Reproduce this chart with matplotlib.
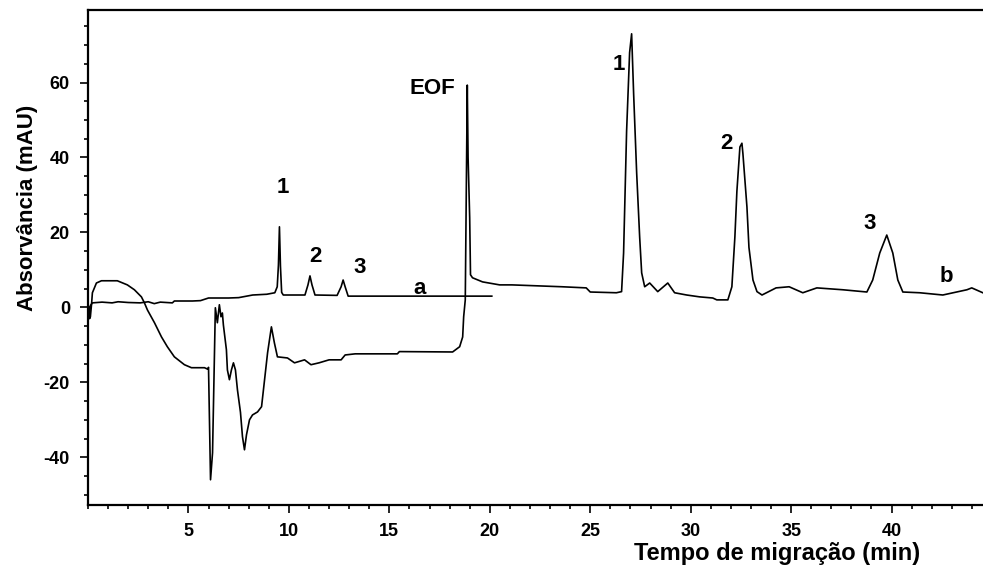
import matplotlib
matplotlib.use("Agg")
import matplotlib.pyplot as plt
from matplotlib.ticker import MultipleLocator

plt.rcParams["axes.unicode_minus"] = False

# eletroferograma (a): padrões, até 20 min
tempo_a = [0.05, 0.08, 0.12, 0.22, 0.7, 1.2, 1.5, 2.0, 2.6, 3.0, 3.3, 3.6, 4.2, 4.3,
           5.2, 5.6, 6.0, 6.5, 7.0, 7.5, 8.2, 8.9, 9.3, 9.42, 9.48, 9.53, 9.58, 9.64,
           9.72, 9.9, 10.8, 10.95, 11.05, 11.15, 11.3, 12.4, 12.6, 12.7, 12.8, 12.95,
           15.0, 18.8, 20.1]
abs_a = [0.0, -2.5, 0.5, 1.2, 1.4, 1.2, 1.5, 1.3, 1.2, 1.5, 1.0, 1.4, 1.2, 1.7,
         1.7, 1.8, 2.5, 2.5, 2.5, 2.6, 3.3, 3.5, 3.9, 5.5, 11.3, 21.5, 11.0, 4.0,
         3.3, 3.3, 3.3, 6.0, 8.4, 6.0, 3.3, 3.2, 5.5, 7.3, 5.5, 3.0,
         3.0, 3.0, 3.0]

# eletroferograma (b): amostra, corrida completa
tempo_b = [0.05, 0.08, 0.12, 0.18, 0.22, 0.42, 0.67, 1.46, 1.96, 2.31, 2.66, 2.81,
           2.96, 3.31, 3.66, 3.95, 4.3, 4.8, 5.15, 5.8, 5.96, 6.0, 6.1, 6.2, 6.34,
           6.44, 6.54, 6.62, 6.69, 6.74, 6.89, 6.94, 7.04, 7.14, 7.24, 7.34, 7.44,
           7.59, 7.69, 7.79, 7.89, 8.04, 8.19, 8.44, 8.64, 8.79, 8.94, 9.13, 9.28,
           9.43, 9.93, 10.28, 10.78, 11.1, 11.5, 12.0, 12.6, 12.8, 13.3, 15.4, 15.5,
           18.15, 18.5, 18.65, 18.7, 18.78, 18.88, 18.92, 19.0, 19.04, 19.14, 19.64,
           20.49, 21.1, 23.6, 24.8, 25.0, 26.3, 26.56, 26.66, 26.81, 26.96, 27.06,
           27.16, 27.31, 27.46, 27.56, 27.71, 27.96, 28.36, 28.86, 29.2, 29.8, 30.45,
           31.1, 31.3, 31.85, 32.05, 32.2, 32.3, 32.45, 32.55, 32.6, 32.8, 32.9,
           33.1, 33.3, 33.55, 34.25, 34.9, 35.58, 36.28, 37.57, 38.77, 39.06, 39.41,
           39.76, 40.06, 40.31, 40.56, 41.4, 42.55, 43.75, 43.99, 44.54]
abs_b = [0.0, -3.0, -2.5, 1.0, 3.9, 6.5, 7.1, 7.1, 6.0, 4.7, 2.8, 1.2,
         -0.7, -4.1, -7.9, -10.5, -13.2, -15.3, -16.1, -16.1, -16.5, -16.0, -46.0, -38.8, -0.1,
         -4.1, 0.7, -2.5, -1.5, -4.7, -11.3, -16.7, -19.3, -16.7, -14.8, -16.7, -22.0,
         -28.0, -34.5, -38.0, -34.0, -30.0, -28.7, -27.9, -26.5, -19.3, -12.1, -5.2, -9.5,
         -13.2, -13.5, -14.8, -14.0, -15.3, -14.8, -14.0, -14.0, -12.7, -12.4, -12.4, -11.8,
         -11.9, -10.5, -7.9, -2.5, 2.0, 59.3, 40.0, 23.9, 8.7, 7.9, 6.8,
         6.0, 6.0, 5.5, 5.2, 4.1, 3.9, 4.2, 14.5, 47.0, 68.0, 73.0,
         57.0, 36.0, 18.8, 9.2, 5.5, 6.5, 4.2, 6.5, 3.9, 3.3, 2.8,
         2.5, 2.0, 2.0, 5.5, 18.8, 31.0, 42.8, 43.8, 41.0, 26.8, 16.0,
         7.3, 4.2, 3.3, 5.2, 5.5, 3.9, 5.2, 4.7, 4.1, 7.3, 14.5,
         19.3, 14.5, 7.3, 4.1, 3.9, 3.3, 4.7, 5.2, 3.9]

# rótulos dos picos: (texto, tempo, absorvância)
rotulos = ["1", "2", "3", "a", "EOF", "1", "2", "3", "b"]
rot_t = [9.7, 11.3, 13.5, 16.5, 17.15, 26.4, 31.8, 38.9, 42.7]
rot_y = [29.3, 10.8, 7.8, 2.3, 55.7, 62, 41, 19.5, 5.5]

fig = plt.figure(figsize=(9.83, 5.66), dpi=100)
ax = fig.add_axes([0.0895, 0.108, 0.9105, 0.874])

ax.plot(tempo_a, abs_a, color="black", lw=1.2)
ax.plot(tempo_b, abs_b, color="black", lw=1.2)

for txt, t, y in zip(rotulos, rot_t, rot_y):
    ax.text(t, y, txt, fontsize=16, fontweight="bold", ha="center", va="bottom",
            family=["Liberation Sans", "DejaVu Sans"])

ax.set_xlim(0, 44.55)
ax.set_ylim(-52.7, 79.3)
ax.xaxis.set_major_locator(MultipleLocator(5))
ax.xaxis.set_minor_locator(MultipleLocator(1))
ax.yaxis.set_major_locator(MultipleLocator(20))
ax.yaxis.set_minor_locator(MultipleLocator(5))
ax.set_xticks([5, 10, 15, 20, 25, 30, 35, 40])
ax.set_yticks([-40, -20, 0, 20, 40, 60])

ax.spines["right"].set_visible(False)
for s in ["left", "bottom", "top"]:
    ax.spines[s].set_linewidth(1.6)

ax.tick_params(which="major", length=6, width=1.2, pad=7, labelsize=13)
ax.tick_params(which="minor", length=3, width=1.2)
for lab in ax.get_xticklabels() + ax.get_yticklabels():
    lab.set_fontweight("bold")
    lab.set_family(["Liberation Sans Narrow", "Liberation Sans", "DejaVu Sans"])

fig.text(0.79, 0.002, "Tempo de migração (min)", fontsize=17, fontweight="bold",
         ha="center", va="bottom", family=["Liberation Sans", "DejaVu Sans"])
fig.text(0.028, 0.633, "Absorvância (mAU)", fontsize=16, fontweight="bold",
         rotation=90, ha="center", va="center", family=["Liberation Sans", "DejaVu Sans"])

fig.savefig("out.png", dpi=100)
